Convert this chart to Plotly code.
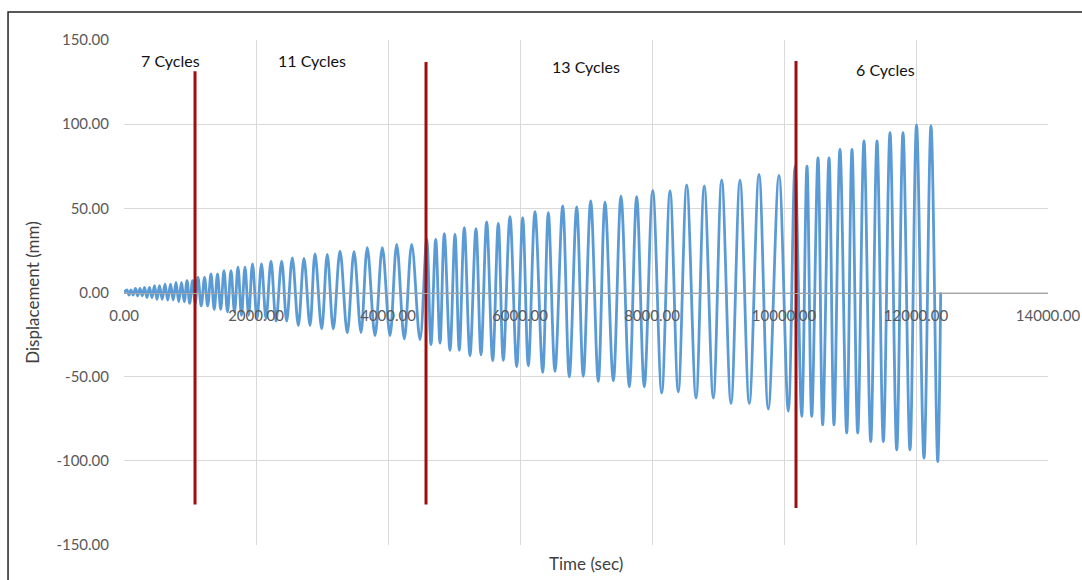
import plotly.graph_objects as go

# ---- data (time in s, displacement in mm) ----
peak_time = [45, 106, 174, 242, 311, 386, 462, 538, 621, 705, 788, 871, 955, 1038,
             1121, 1220, 1318, 1417, 1515, 1621, 1727, 1833, 1947, 2083, 2227, 2389,
             2550, 2727, 2894, 3080, 3273, 3485, 3686, 3914, 4132, 4359,
             4586, 4723, 4853, 5015, 5156, 5333, 5495, 5671, 5848, 6041, 6227, 6429,
             6647, 6859, 7071, 7288, 7530, 7768, 8011, 8273, 8526, 8792, 9056, 9333,
             9621, 9924,
             10167, 10348, 10515, 10682, 10848, 11030, 11212, 11409, 11606, 11803,
             12008, 12227]
peak_value = [1.5, 1.5, 2.5, 2.5, 3, 3, 4, 4, 5, 5, 6, 6, 7, 7,
              9, 9, 11, 11, 13, 13, 15, 15, 17, 17, 18.6, 18.6, 20.6, 20.2, 23, 22.6,
              24.6, 24.2, 26.6, 26.6, 28.6, 28.6,
              31.5, 31.5, 35, 34.5, 38.5, 38, 41.9, 41, 45, 44.4, 48, 47.4, 51.4, 50.8,
              54.4, 53.7, 57.3, 57, 60.7, 60.3, 63.9, 63.3, 66.9, 66.7, 70.2, 69.6,
              75, 75, 80, 80, 85, 85, 90, 90, 95, 95, 99.4, 99]
trough_time = [76, 139, 208, 276, 348, 424, 500, 579, 662, 745, 829, 912, 995, 1079,
               1170, 1268, 1367, 1465, 1568, 1674, 1780, 1889, 2015, 2152, 2303, 2465,
               2641, 2818, 2995, 3171, 3383, 3591, 3803, 4030, 4247, 4485,
               4651, 4788, 4939, 5080, 5242, 5409, 5586, 5747, 5950, 6126, 6344, 6530,
               6747, 6959, 7186, 7414, 7656, 7883, 8147, 8398, 8667, 8929, 9197, 9474,
               9762, 10065,
               10268, 10420, 10586, 10757, 10950, 11117, 11314, 11505, 11708, 11909,
               12121, 12329]
trough_value = [-1.5, -1.5, -2, -2, -3, -3, -4, -4, -4.5, -4.5, -5.5, -5.5, -6.5, -6.5,
                -8, -8, -10, -10, -11.5, -11.5, -13.5, -13.5, -15.5, -15.5, -17, -17,
                -19.6, -19.6, -21.6, -21.6, -24, -23.8, -25.6, -25.6, -27.6, -28,
                -31, -30, -34.3, -34.3, -37.5, -37, -40.5, -40.3, -44, -43.5, -47.4,
                -46.8, -50.2, -49.8, -52.8, -52.5, -56, -56, -59.7, -59, -62.7, -62.7,
                -66, -66, -69.2, -70.6,
                -73.6, -73.6, -78.6, -78.6, -83.5, -83.5, -88.5, -88.5, -93.5, -93.5,
                -98.4, -100.4]
start_point = (0, 0)
end_point = (12374, 0)

divider_x = [1076, 4576, 10182]
divider_top = [131.5, 137, 137.5]
divider_bottom = [-126, -126, -128]

cycle_labels = ["7 Cycles", "11 Cycles", "13 Cycles", "6 Cycles"]
cycle_label_x = [712, 2848, 7000, 11545]
cycle_label_y = [138, 138, 134.5, 132.7]

x_tick_vals = [0, 2000, 4000, 6000, 8000, 10000, 12000, 14000]
x_tick_text = ["0.00", "2000.00", "4000.00", "6000.00", "8000.00", "10000.00",
               "12000.00", "14000.00"]
y_tick_vals = [-150, -100, -50, 0, 50, 100, 150]
y_tick_text = ["-150.00", "-100.00", "-50.00", "0.00", "50.00", "100.00", "150.00"]

# ---- assemble the signal: alternate peak / trough ----
sig_t = [start_point[0]]
sig_v = [start_point[1]]
for pt, pv, tt, tv in zip(peak_time, peak_value, trough_time, trough_value):
    sig_t += [pt, tt]
    sig_v += [pv, tv]
sig_t.append(end_point[0])
sig_v.append(end_point[1])

FONT = "Lato"
fig = go.Figure()

fig.add_trace(go.Scatter(
    x=sig_t, y=sig_v, mode="lines",
    line=dict(color="#5B9BD5", width=2.8, shape="spline", smoothing=1.0),
    showlegend=False, hoverinfo="skip"))

for dx, dt, db in zip(divider_x, divider_top, divider_bottom):
    fig.add_trace(go.Scatter(
        x=[dx, dx], y=[db, dt], mode="lines",
        line=dict(color="#A00D0D", width=3), showlegend=False, hoverinfo="skip"))

for txt, ax, ay in zip(cycle_labels, cycle_label_x, cycle_label_y):
    fig.add_annotation(x=ax, y=ay, text=txt, showarrow=False,
                       font=dict(family=FONT, size=16, color="#111111"))

fig.add_annotation(xref="paper", yref="paper", x=0.5, y=-0.012, yanchor="top",
                   text="Time (sec)", showarrow=False,
                   font=dict(family=FONT, size=17, color="#404040"))

# outer frame
fig.add_shape(type="rect", xref="paper", yref="paper",
              x0=-0.1255, x1=1.06, y0=-0.12, y1=1.0554,
              line=dict(color="#222222", width=1.5), layer="below")

fig.update_layout(
    width=1082, height=580,
    margin=dict(l=124, r=34, t=40, b=35, autoexpand=False),
    paper_bgcolor="white", plot_bgcolor="white",
    font=dict(family=FONT, size=15, color="#595959"),
    xaxis=dict(range=[0, 14000], tickvals=x_tick_vals, ticktext=x_tick_text,
               showgrid=True, gridcolor="#D9D9D9", gridwidth=1, automargin=False,
               zeroline=False, showline=True, linecolor="#A6A6A6", linewidth=1,
               anchor="free", position=0.5, ticks="", ticklabelstandoff=9,
               tickfont=dict(family=FONT, size=15, color="#595959")),
    yaxis=dict(range=[-150, 150], tickvals=y_tick_vals, ticktext=y_tick_text,
               showgrid=True, gridcolor="#D9D9D9", gridwidth=1, automargin=False,
               zeroline=False, showline=False, ticks="", ticklabelstandoff=14,
               title=dict(text="Displacement (mm)", standoff=12,
                          font=dict(family=FONT, size=17, color="#404040")),
               tickfont=dict(family=FONT, size=15, color="#595959")),
)

fig.write_html("out.html")
